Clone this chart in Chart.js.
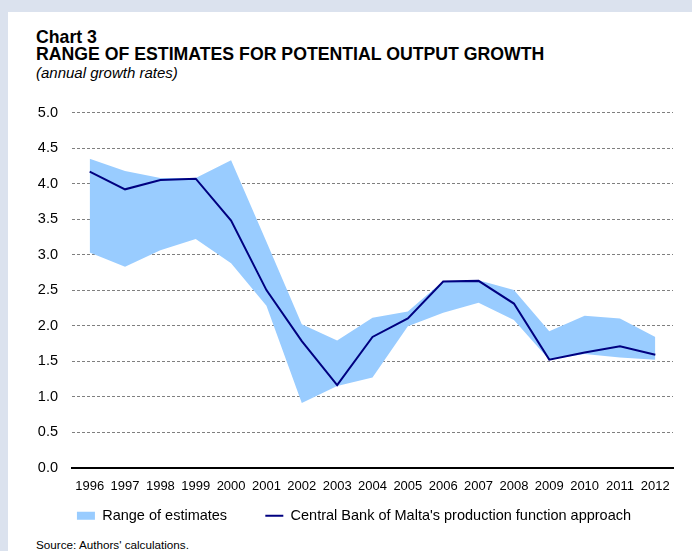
<!DOCTYPE html>
<html>
<head>
<meta charset="utf-8">
<script src="https://cdn.jsdelivr.net/npm/chart.js@4.4.1/dist/chart.umd.min.js"></script>
<style>
  html, body { margin: 0; padding: 0; }
  body { width: 692px; height: 551px; background: #dbe2ee; position: relative; overflow: hidden;
         font-family: 'Liberation Sans', Arial, sans-serif; color: #000; }
  #panel { position: absolute; left: 8px; top: 12px; width: 684px; height: 539px; background: #fff; }
  #title { position: absolute; left: 36px; top: 29px; font-weight: bold; font-size: 17.7px; line-height: 17px; }
  #subtitle { position: absolute; left: 36px; top: 65px; font-style: italic; font-size: 15px; line-height: 16px; }
  #source { position: absolute; left: 36px; top: 538px; font-size: 11.7px; line-height: 14px; }
  #wrap { position: absolute; left: 0; top: 90px; width: 692px; height: 443px; }
</style>
</head>
<body>
<div id="panel"></div>
<div id="title">Chart 3<br>RANGE OF ESTIMATES FOR POTENTIAL OUTPUT GROWTH</div>
<div id="subtitle">(annual growth rates)</div>
<div id="wrap"><canvas id="c"></canvas></div>
<div id="source">Source: Authors' calculations.</div>
<script>
const years = ['1996','1997','1998','1999','2000','2001','2002','2003','2004','2005','2006','2007','2008','2009','2010','2011','2012'];
const rangeUpper = [4.35, 4.18, 4.08, 4.08, 4.33, 3.18, 2.02, 1.79, 2.11, 2.20, 2.63, 2.64, 2.50, 1.92, 2.14, 2.10, 1.84];
const rangeLower = [3.03, 2.83, 3.06, 3.22, 2.88, 2.28, 0.91, 1.15, 1.27, 1.99, 2.18, 2.32, 2.08, 1.52, 1.60, 1.55, 1.52];
const cbmApproach = [4.17, 3.92, 4.05, 4.07, 3.48, 2.50, 1.78, 1.16, 1.84, 2.10, 2.62, 2.63, 2.31, 1.52, 1.62, 1.71, 1.59];
const yTicks = [0, 0.5, 1.0, 1.5, 2.0, 2.5, 3.0, 3.5, 4.0, 4.5, 5.0];
const legendNames = ['Range of estimates', "Central Bank of Malta's production function approach"];

const FONT = "'Liberation Sans', Arial, sans-serif";
const GAP = '\u00a0\u00a0\u00a0\u00a0\u00a0\u00a0\u00a0';

new Chart(document.getElementById('c'), {
  type: 'line',
  data: {
    labels: years,
    datasets: [
      {
        label: legendNames[1],
        data: cbmApproach,
        borderColor: '#000080',
        backgroundColor: '#000080',
        borderWidth: 2,
        pointRadius: 0,
        pointStyle: 'line',
        fill: false,
        tension: 0,
        order: 0
      },
      {
        label: legendNames[0],
        data: rangeUpper,
        borderWidth: 0,
        borderColor: 'rgba(0,0,0,0)',
        backgroundColor: '#99ccff',
        pointRadius: 0,
        pointStyle: 'rect',
        fill: '+1',
        tension: 0,
        order: 2
      },
      {
        label: 'lower',
        data: rangeLower,
        borderWidth: 0,
        borderColor: 'rgba(0,0,0,0)',
        backgroundColor: '#99ccff',
        pointRadius: 0,
        fill: false,
        tension: 0,
        order: 3
      }
    ]
  },
  options: {
    responsive: true,
    maintainAspectRatio: false,
    animation: false,
    layout: { padding: { left: 35, right: 19, top: 20, bottom: 0 } },
    plugins: {
      tooltip: { enabled: false },
      legend: {
        position: 'bottom',
        labels: {
          font: { family: FONT, size: 14.5 },
          color: '#000',
          usePointStyle: true,
          pointStyleWidth: 18,
          boxHeight: 8,
          padding: 10,
          generateLabels: (chart) => {
            const items = Chart.defaults.plugins.legend.labels.generateLabels(chart);
            const out = [];
            items.forEach(it => {
              const ds = chart.data.datasets[it.datasetIndex];
              if (ds.label === 'lower') return;
              if (ds.pointStyle === 'rect') {
                it.lineWidth = 0; it.fillStyle = '#99ccff'; it.strokeStyle = '#99ccff';
                it.text = ds.label + GAP;
              } else {
                it.lineWidth = 2; it.strokeStyle = '#000080';
              }
              out.push(it);
            });
            out.sort((a, b) => legendNames.indexOf(a.text.trim()) - legendNames.indexOf(b.text.trim()));
            return out;
          }
        }
      }
    },
    scales: {
      x: {
        offset: true,
        grid: { display: false, drawTicks: false },
        border: { display: true, color: '#000', width: 2 },
        ticks: { font: { family: FONT, size: 13 }, color: '#000', padding: 11, maxRotation: 0, autoSkip: false },
        afterFit: (s) => { s.height = 31; }
      },
      y: {
        min: 0, max: 5,
        afterBuildTicks: (s) => { s.ticks = yTicks.map(v => ({ value: v })); },
        grid: {
          drawTicks: false,
          color: (ctx) => ctx.tick && ctx.tick.value === 0 ? 'rgba(0,0,0,0)' : '#7f7f7f',
          lineWidth: 1
        },
        border: { display: false, dash: [3, 2] },
        ticks: {
          font: { family: FONT, size: 14.5 }, color: '#000', padding: 14,
          callback: (v) => Number(v).toFixed(1)
        },
        afterFit: (s) => { s.width = 37; }
      }
    }
  }
});
</script>
</body>
</html>
